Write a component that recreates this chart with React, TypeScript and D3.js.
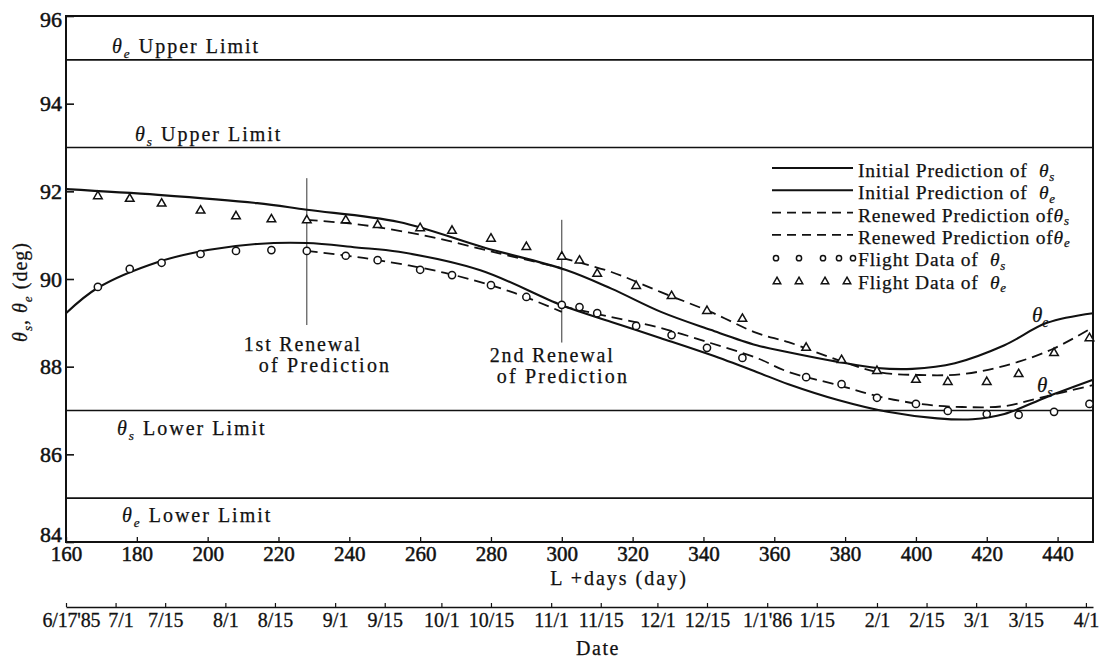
import React, { useEffect, useRef } from "react";
import * as d3 from "d3";

// axis ticks
const yTicks = [84, 86, 88, 90, 92, 94, 96];
const dayTicks = [160, 180, 200, 220, 240, 260, 280, 300, 320, 340, 360, 380, 400, 420, 440];
const launchDate = "1985-01-08"; // L+0
const dateTicks = [
  "1985-06-17", "1985-07-01", "1985-07-15", "1985-08-01", "1985-08-15", "1985-09-01", "1985-09-15",
  "1985-10-01", "1985-10-15", "1985-11-01", "1985-11-15", "1985-12-01", "1985-12-15", "1986-01-01",
  "1986-01-15", "1986-02-01", "1986-02-15", "1986-03-01", "1986-03-15", "1986-04-01",
];
const dateLabels = [
  "6/17'85", "7/1", "7/15", "8/1", "8/15", "9/1", "9/15", "10/1", "10/15", "11/1", "11/15",
  "12/1", "12/15", "1/1'86", "1/15", "2/1", "2/15", "3/1", "3/15", "4/1",
];

// limit lines
const limitValues = [95, 93, 87, 85];
const limitSubs = ["e", "s", "s", "e"];
const limitNames = ["Upper Limit", "Upper Limit", "Lower Limit", "Lower Limit"];

// initial predictions
const initSDays = [160, 169, 186, 200, 214, 228, 242, 254, 277, 300, 314, 328, 342, 355, 364, 378, 392, 406, 416, 425, 437, 450];
const initS = [89.22, 89.8, 90.39, 90.66, 90.8, 90.82, 90.72, 90.62, 90.2, 89.4, 89.02, 88.65, 88.27, 87.88, 87.6, 87.24, 86.97, 86.82, 86.8, 86.92, 87.31, 87.7];
const initEDays = [160, 186, 214, 228, 254, 278, 301, 314, 328, 342, 355, 364, 378, 389, 399, 411, 425, 437, 450];
const initE = [92.05, 91.92, 91.73, 91.58, 91.3, 90.72, 90.21, 89.78, 89.25, 88.84, 88.49, 88.33, 88.11, 87.97, 87.95, 88.08, 88.49, 89.0, 89.22];

// renewed predictions (after 1st and 2nd renewal)
const renewS1Days = [228, 244, 267, 286, 300];
const renewS1 = [90.64, 90.48, 90.14, 89.7, 89.25];
const renewS2Days = [300, 314, 328, 342, 355, 364, 378, 389, 401, 413, 425, 435, 450];
const renewS2 = [89.38, 89.13, 88.88, 88.54, 88.2, 87.88, 87.58, 87.33, 87.15, 87.08, 87.1, 87.29, 87.58];
const renewE1Days = [228, 244, 263, 282, 300];
const renewE1 = [91.35, 91.23, 90.96, 90.59, 90.25];
const renewE2Days = [300, 314, 328, 342, 355, 364, 378, 389, 401, 413, 425, 438, 450];
const renewE2 = [90.48, 90.16, 89.7, 89.25, 88.77, 88.56, 88.15, 87.88, 87.81, 87.83, 88.02, 88.38, 88.9];

// flight data
const flightDays = [169, 178, 187, 198, 208, 218, 228, 239, 248, 260, 269, 280, 290, 300, 305, 310, 321, 331, 341, 351, 369, 379, 389, 400, 409, 420, 429, 439, 449];
const flightS = [89.82, 90.23, 90.37, 90.57, 90.64, 90.66, 90.64, 90.53, 90.43, 90.21, 90.09, 89.86, 89.59, 89.41, 89.36, 89.22, 88.93, 88.72, 88.43, 88.2, 87.76, 87.6, 87.29, 87.15, 86.99, 86.92, 86.9, 86.97, 87.15];
const flightE = [91.89, 91.83, 91.72, 91.56, 91.43, 91.36, 91.34, 91.34, 91.23, 91.16, 91.1, 90.92, 90.73, 90.51, 90.42, 90.12, 89.84, 89.61, 89.27, 89.09, 88.43, 88.15, 87.9, 87.7, 87.65, 87.65, 87.83, 88.31, 88.65];

// renewal markers
const renewalDays = [228, 300];
const renewalTop = [92.3, 91.35];
const renewalBottom = [88.95, 88.55];
const renewalNames = ["1st Renewal", "2nd Renewal"];

const FONT = "'Liberation Serif', 'DejaVu Serif', serif";
const INK = "#111";

type Seg = { t: string; it?: boolean; sub?: boolean };

// text with italic theta and subscripts
function rich(parent: any, x: number, y: number, segs: Seg[], size: number, spacing = 0, subShift = 0.25) {
  const txt = parent
    .append("text")
    .attr("x", x)
    .attr("y", y)
    .attr("font-size", size)
    .attr("letter-spacing", spacing)
    .attr("stroke", INK)
    .attr("stroke-width", 0.25)
    .style("white-space", "pre");
  let down = false;
  segs.forEach((s) => {
    const ts = txt.append("tspan").text(s.t);
    if (s.it) ts.attr("font-style", "italic");
    if (s.sub) {
      ts.attr("font-size", size * 0.66);
      if (!down) ts.attr("dy", size * subShift);
      down = true;
    } else if (down) {
      ts.attr("dy", -size * subShift);
      down = false;
    }
  });
  return txt;
}

export default function App() {
  const ref = useRef<SVGSVGElement>(null);

  useEffect(() => {
    document.body.style.margin = "0";
    const svg = d3.select(ref.current);
    svg.selectAll("*").remove();

    const left = 66, right = 1093, top = 16, bottom = 542, dateY = 607;

    const x = d3.scaleLinear().domain([160, 450]).range([left, right]);
    const y = d3.scaleLinear().domain([84, 96]).range([bottom, top]);
    const launch = d3.utcParse("%Y-%m-%d")(launchDate) as Date;
    const xDate = d3
      .scaleUtc()
      .domain([d3.utcDay.offset(launch, 160), d3.utcDay.offset(launch, 450)])
      .range([left, right]);

    const g = svg.append("g").attr("font-family", FONT).attr("fill", INK);

    // limit lines
    limitValues.forEach((v, i) => {
      g.append("line")
        .attr("x1", left).attr("x2", right)
        .attr("y1", y(v)).attr("y2", y(v))
        .attr("stroke", INK).attr("stroke-width", 1.6);
      const upper = limitNames[i].startsWith("Upper");
      const lx = [46, 69, 51, 56][i];
      rich(g, left + lx, upper ? y(v) - 7 : y(v) + 24,
        [{ t: "θ", it: true }, { t: limitSubs[i], it: true, sub: true }, { t: " " + limitNames[i] }], 20, 2);
    });

    // frame
    g.append("rect")
      .attr("x", left).attr("y", top)
      .attr("width", right - left).attr("height", bottom - top)
      .attr("fill", "none").attr("stroke", INK).attr("stroke-width", 2);

    // y axis
    const yAxis = g.append("g").attr("transform", `translate(${left},0)`)
      .call(d3.axisLeft(y).tickValues(yTicks).tickSizeInner(-8).tickSizeOuter(0).tickPadding(4).tickFormat(d3.format("d")));
    yAxis.select(".domain").remove();
    yAxis.selectAll("line").attr("stroke", INK).attr("stroke-width", 1.6);
    yAxis.selectAll("text").attr("font-size", 22).attr("font-family", FONT).attr("fill", INK)
      .attr("stroke", INK).attr("stroke-width", 0.5)
      .attr("y", (d: any) => (d === 84 ? -8 : d === 96 ? 3 : 0));

    // day axis
    const xAxis = g.append("g").attr("transform", `translate(0,${bottom})`)
      .call(d3.axisBottom(x).tickValues(dayTicks).tickSizeInner(-5).tickSizeOuter(0).tickPadding(4));
    xAxis.select(".domain").remove();
    xAxis.selectAll("line").attr("stroke", INK).attr("stroke-width", 1.3);
    xAxis.selectAll("text").attr("font-size", 21).attr("font-family", FONT).attr("fill", INK)
      .attr("stroke", INK).attr("stroke-width", 0.5);

    g.append("text")
      .attr("x", 619).attr("y", 585)
      .attr("text-anchor", "middle").attr("font-size", 20).attr("letter-spacing", 2)
      .attr("stroke", INK).attr("stroke-width", 0.25)
      .text("L +days (day)");

    // date axis
    const dAxis = g.append("g").attr("transform", `translate(0,${dateY})`)
      .call(
        d3.axisBottom(xDate)
          .tickValues(dateTicks.map((d) => d3.utcParse("%Y-%m-%d")(d) as Date))
          .tickSizeInner(-4).tickSizeOuter(0).tickPadding(6)
          .tickFormat((_d: any, i: number) => dateLabels[i])
      );
    dAxis.select(".domain").attr("stroke", INK).attr("stroke-width", 1.6);
    dAxis.selectAll("line").attr("stroke", INK).attr("stroke-width", 1.2);
    dAxis.selectAll("text").attr("font-size", 20).attr("font-family", FONT).attr("fill", INK)
      .attr("stroke", INK).attr("stroke-width", 0.3)
      .attr("text-anchor", (_d: any, i: number) => (i === 0 ? "start" : "middle"))
      .attr("letter-spacing", (_d: any, i: number) => (i === 0 ? -0.2 : 0))
      .attr("x", (_d: any, i: number) => (i === 0 ? -24 : i === 1 ? 5 : 0));

    g.append("text")
      .attr("x", 598).attr("y", 655)
      .attr("text-anchor", "middle").attr("font-size", 20).attr("letter-spacing", 1.5)
      .attr("stroke", INK).attr("stroke-width", 0.25)
      .text("Date");

    // y label
    const yl = rich(g, 0, 0,
      [{ t: "θ", it: true }, { t: "s", it: true, sub: true }, { t: ", " }, { t: "θ", it: true }, { t: "e", it: true, sub: true }, { t: " (deg)" }], 20, 1);
    yl.attr("text-anchor", "middle").attr("transform", "translate(27,292) rotate(-90)");

    // renewal markers
    renewalDays.forEach((d, i) => {
      g.append("line")
        .attr("x1", x(d)).attr("x2", x(d))
        .attr("y1", y(renewalTop[i])).attr("y2", y(renewalBottom[i]))
        .attr("stroke", "#333").attr("stroke-width", 1);
      const off = i === 0 ? [-63, -48] : [-72, -65];
      const by = i === 0 ? 351 : 362;
      g.append("text").attr("x", x(d) + off[0]).attr("y", by)
        .attr("font-size", 20).attr("letter-spacing", 1.8)
        .attr("stroke", INK).attr("stroke-width", 0.25).text(renewalNames[i]);
      g.append("text").attr("x", x(d) + off[1]).attr("y", by + 21)
        .attr("font-size", 20).attr("letter-spacing", 2.2)
        .attr("stroke", INK).attr("stroke-width", 0.25).text("of Prediction");
    });

    // curves
    const line = d3.line<[number, number]>()
      .x((p) => x(p[0]))
      .y((p) => y(p[1]))
      .curve(d3.curveCatmullRom.alpha(0.5));
    const zip = (ds: number[], vs: number[]) => ds.map((d, i) => [d, vs[i]] as [number, number]);

    const curves = [
      { pts: zip(initSDays, initS), dash: null },
      { pts: zip(initEDays, initE), dash: null },
      { pts: zip(renewS1Days, renewS1), dash: "11,6" },
      { pts: zip(renewS2Days, renewS2), dash: "11,6" },
      { pts: zip(renewE1Days, renewE1), dash: "11,6" },
      { pts: zip(renewE2Days, renewE2), dash: "11,6" },
    ];
    curves.forEach((c) => {
      g.append("path")
        .attr("d", line(c.pts))
        .attr("fill", "none")
        .attr("stroke", INK)
        .attr("stroke-width", c.dash ? 1.8 : 2.1)
        .attr("stroke-dasharray", c.dash);
    });

    // flight data markers
    const tri = d3.symbol(d3.symbolTriangle, 32);
    g.append("g").selectAll("circle")
      .data(zip(flightDays, flightS))
      .enter().append("circle")
      .attr("cx", (p) => x(p[0])).attr("cy", (p) => y(p[1]))
      .attr("r", 3.6).attr("fill", "#fff").attr("stroke", INK).attr("stroke-width", 1.5);
    g.append("g").selectAll("path")
      .data(zip(flightDays, flightE))
      .enter().append("path")
      .attr("d", tri as any)
      .attr("transform", (p) => `translate(${x(p[0])},${y(p[1])})`)
      .attr("fill", "#fff").attr("stroke", INK).attr("stroke-width", 1.5);

    // curve labels
    rich(g, 1032, 322, [{ t: "θ", it: true }, { t: "e", it: true, sub: true }], 21);
    rich(g, 1037, 392, [{ t: "θ", it: true }, { t: "s", it: true, sub: true }], 21);

    // legend
    const lg = g.append("g");
    const lx0 = 772, lx1 = 853, tx = 858, by0 = 177, step = 22.3;
    const legendItems = [
      { pre: "Initial Prediction of  ", sub: "s", kind: "solid" },
      { pre: "Initial Prediction of  ", sub: "e", kind: "solid" },
      { pre: "Renewed Prediction of", sub: "s", kind: "dash" },
      { pre: "Renewed Prediction of", sub: "e", kind: "dash" },
      { pre: "Flight Data of  ", sub: "s", kind: "circle" },
      { pre: "Flight Data of  ", sub: "e", kind: "tri" },
    ];
    legendItems.forEach((it, i) => {
      const by = by0 + i * step;
      const ly = by - 9;
      if (it.kind === "solid" || it.kind === "dash") {
        lg.append("line")
          .attr("x1", lx0).attr("x2", lx1).attr("y1", ly).attr("y2", ly)
          .attr("stroke", INK).attr("stroke-width", it.kind === "solid" ? 2 : 1.8)
          .attr("stroke-dasharray", it.kind === "dash" ? "9,6" : null);
      } else if (it.kind === "circle") {
        [776, 799, 823, 839, 853].forEach((cx) =>
          lg.append("circle").attr("cx", cx).attr("cy", ly + 1).attr("r", 2.6)
            .attr("fill", "#fff").attr("stroke", INK).attr("stroke-width", 1.5));
      } else {
        [777, 799, 825, 847].forEach((cx) =>
          lg.append("path").attr("d", d3.symbol(d3.symbolTriangle, 24) as any)
            .attr("transform", `translate(${cx},${ly + 2})`)
            .attr("fill", "#fff").attr("stroke", INK).attr("stroke-width", 1.5));
      }
      rich(lg, tx, by, [{ t: it.pre }, { t: "θ", it: true }, { t: it.sub, it: true, sub: true }], 19.5, 0.8, 0.18);
    });
  }, []);

  return <svg ref={ref} width={1103} height={660} style={{ display: "block", background: "#fff" }} />;
}
